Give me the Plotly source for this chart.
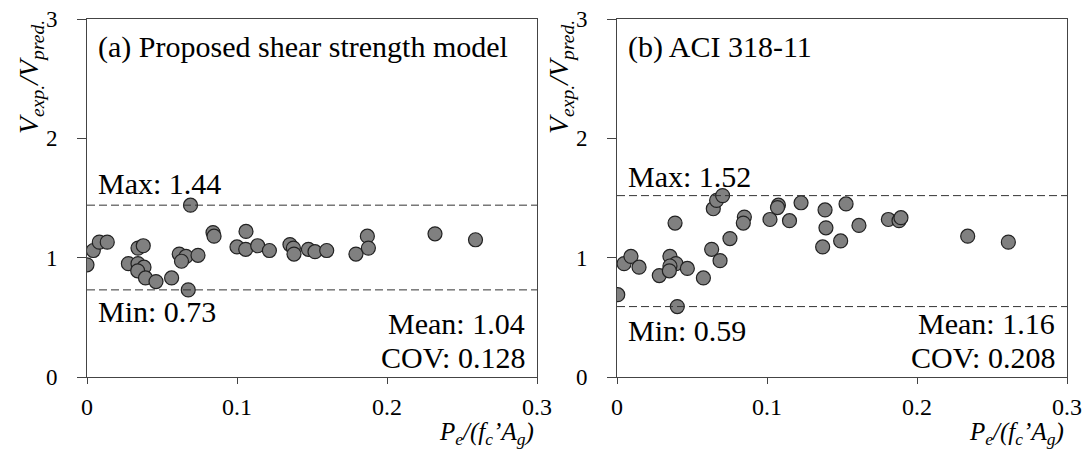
import plotly.graph_objects as go
from plotly.subplots import make_subplots

# (a) proposed shear strength model
xa = [0.0, 0.0042, 0.0082, 0.0135, 0.0276, 0.034, 0.0375, 0.034, 0.038, 0.0338,
      0.039, 0.046, 0.0564, 0.0675, 0.0615, 0.066, 0.063, 0.069, 0.074, 0.084,
      0.0847, 0.100, 0.1058, 0.106, 0.1138, 0.1216, 0.1353, 0.1376, 0.138, 0.1476,
      0.152, 0.1598, 0.1793, 0.1869, 0.1876, 0.232, 0.259]
ya = [0.94, 1.06, 1.13, 1.13, 0.95, 1.08, 1.10, 0.95, 0.92, 0.89,
      0.83, 0.80, 0.83, 0.73, 1.03, 1.01, 0.97, 1.44, 1.02, 1.21,
      1.18, 1.09, 1.07, 1.22, 1.10, 1.06, 1.11, 1.08, 1.03, 1.07,
      1.05, 1.06, 1.03, 1.18, 1.08, 1.20, 1.15]

# (b) ACI 318-11
xb = [0.0005, 0.0047, 0.0093, 0.0147, 0.0282, 0.0353, 0.0393, 0.0353, 0.0349, 0.0387,
      0.0402, 0.0469, 0.0576, 0.0631, 0.0687, 0.0642, 0.0664, 0.0704, 0.0753, 0.0849,
      0.0842, 0.102, 0.1076, 0.107, 0.115, 0.1227, 0.1387, 0.1393, 0.1371, 0.1491,
      0.1527, 0.1613, 0.1809, 0.188, 0.1893, 0.2338, 0.2609]
yb = [0.69, 0.95, 1.01, 0.92, 0.85, 1.01, 0.95, 0.93, 0.89, 1.29,
      0.59, 0.91, 0.83, 1.07, 0.975, 1.41, 1.48, 1.52, 1.16, 1.34,
      1.29, 1.32, 1.44, 1.42, 1.31, 1.46, 1.40, 1.25, 1.09, 1.14,
      1.45, 1.27, 1.32, 1.31, 1.335, 1.18, 1.13]

stats = {
    "a": {"max": 1.44, "min": 0.73, "mean": 1.04, "cov": 0.128, "title": "(a) Proposed shear strength model"},
    "b": {"max": 1.52, "min": 0.59, "mean": 1.16, "cov": 0.208, "title": "(b) ACI 318-11"},
}

font = "Liberation Serif, Times New Roman, serif"
# page body has an 8px margin, so the figure starts at (8, 8) in the window
W, H = 1083, 446
L, R, T, B = 79, 24, 11, 77
pw, ph = W - L - R, H - T - B
# plot area origin in window pixels
X0, Y0 = 87, 377

fig = make_subplots(rows=1, cols=2, horizontal_spacing=80 / pw)
fig.update_layout(xaxis=dict(domain=[0, 450 / pw]), xaxis2=dict(domain=[530 / pw, 1.0]))

for col, (xs, ys) in enumerate([(xa, ya), (xb, yb)], start=1):
    fig.add_trace(go.Scatter(
        x=xs, y=ys, mode="markers",
        marker=dict(size=14, color="#808080", line=dict(color="#222222", width=1.2)),
        showlegend=False), row=1, col=col)

for col, key in [(1, "a"), (2, "b")]:
    s = stats[key]
    for v in (s["max"], s["min"]):
        fig.add_hline(y=v, line=dict(color="#333333", width=1, dash="8px,4px"), row=1, col=col)

axis_common = dict(showline=True, linecolor="#444444", linewidth=1, mirror=True,
                   ticks="outside", tickcolor="#444444", showgrid=False,
                   zeroline=False, ticklabeloverflow="allow", automargin=False)
fig.update_xaxes(range=[0, 0.3], tickvals=[0, 0.1, 0.2, 0.3], ticktext=["0", "0.1", "0.2", "0.3"],
                 ticklen=6, ticklabelstandoff=2,
                 tickfont=dict(family=font, size=24, color="black"), **axis_common)
fig.update_yaxes(range=[0, 3], tickvals=[0, 1, 2, 3], ticklen=9, ticklabelstandoff=15,
                 tickfont=dict(family=font, size=23, color="black"), **axis_common)


def px(x):
    return (x - X0) / pw


def py(y):
    return (Y0 - y) / ph


anns = []
for off, key in [(0, "a"), (530, "b")]:
    s = stats[key]
    max_y = {"a": 183, "b": 176}[key]
    min_y = {"a": 311, "b": 330}[key]
    items = [
        (s["title"], 96 + off, 47, "left"),
        ("Max: %.2f" % s["max"], 96 + off, max_y, "left"),
        ("Min: %.2f" % s["min"], 96 + off, min_y, "left"),
        ("Mean: %.2f" % s["mean"], 527 + off, 323, "right"),
        ("COV: %.3f" % s["cov"], 527 + off, 357, "right"),
    ]
    for txt, x, y, al in items:
        anns.append(dict(text=txt, x=px(x), y=py(y), xref="paper", yref="paper",
                         xanchor=al, yanchor="middle", showarrow=False,
                         font=dict(family=font, size=30, color="black")))
    anns.append(dict(text="<i>V<sub>exp.</sub>/V<sub>pred.</sub></i>", x=px(30 + off), y=py(77),
                     xref="paper", yref="paper", textangle=-90, showarrow=False,
                     xanchor="center", yanchor="middle",
                     font=dict(family=font, size=28, color="black")))
    anns.append(dict(text="<i>P<sub>e</sub>/(f<sub>c</sub>\u2019A<sub>g</sub>)</i>", x=px(536 + off), y=py(433),
                     xref="paper", yref="paper", showarrow=False,
                     xanchor="right", yanchor="middle",
                     font=dict(family=font, size=25, color="black")))

fig.update_layout(width=W, height=H, margin=dict(l=L, r=R, t=T, b=B),
                  plot_bgcolor="white", paper_bgcolor="white", annotations=anns)

fig.write_html("out.html")
